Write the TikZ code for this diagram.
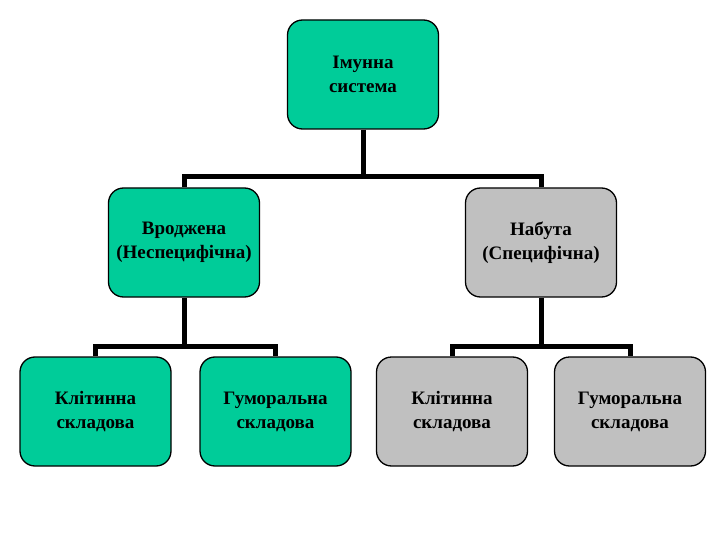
\documentclass[tikz,border=0pt]{standalone}
\usepackage{fontspec}
\setmainfont{Liberation Serif}
\definecolor{teal1}{HTML}{00CC99}
\definecolor{gray1}{HTML}{C0C0C0}
\begin{document}
\begin{tikzpicture}[x=1pt,y=-1pt,
  box/.style={draw=black,line width=1.3pt,rounded corners=15pt,minimum width=151pt,minimum height=109pt,
    align=center,font=\fontsize{19}{24}\selectfont\bfseries,inner sep=0pt},
  tealbox/.style={box,fill=teal1},
  graybox/.style={box,fill=gray1},
  conn/.style={line width=5pt}]
\useasboundingbox (0,0) rectangle (720,540);
\node[tealbox] (top) at (363,74.5) {Імунна\\система};
\node[tealbox] (inn) at (184,242.5) {Вроджена\\(Неспецифічна)};
\node[graybox] (acq) at (541,242.5) {Набута\\(Специфічна)};
\node[tealbox] (c1) at (95.5,411.5) {Клітинна\\складова};
\node[tealbox] (h1) at (275.5,411.5) {Гуморальна\\складова};
\node[graybox] (c2) at (452,411.5) {Клітинна\\складова};
\node[graybox] (h2) at (630,411.5) {Гуморальна\\складова};
\coordinate (j0) at (363,177);
\coordinate (j1) at (184,346);
\coordinate (j2) at (541,346);
\draw[conn] (top.south) -- (j0);
\draw[conn] (inn.north) -- (inn.north |- j0) -- (acq.north |- j0) -- (acq.north);
\draw[conn] (inn.south) -- (j1);
\draw[conn] (c1.north) -- (c1.north |- j1) -- (h1.north |- j1) -- (h1.north);
\draw[conn] (acq.south) -- (j2);
\draw[conn] (c2.north) -- (c2.north |- j2) -- (h2.north |- j2) -- (h2.north);
\end{tikzpicture}
\end{document}
